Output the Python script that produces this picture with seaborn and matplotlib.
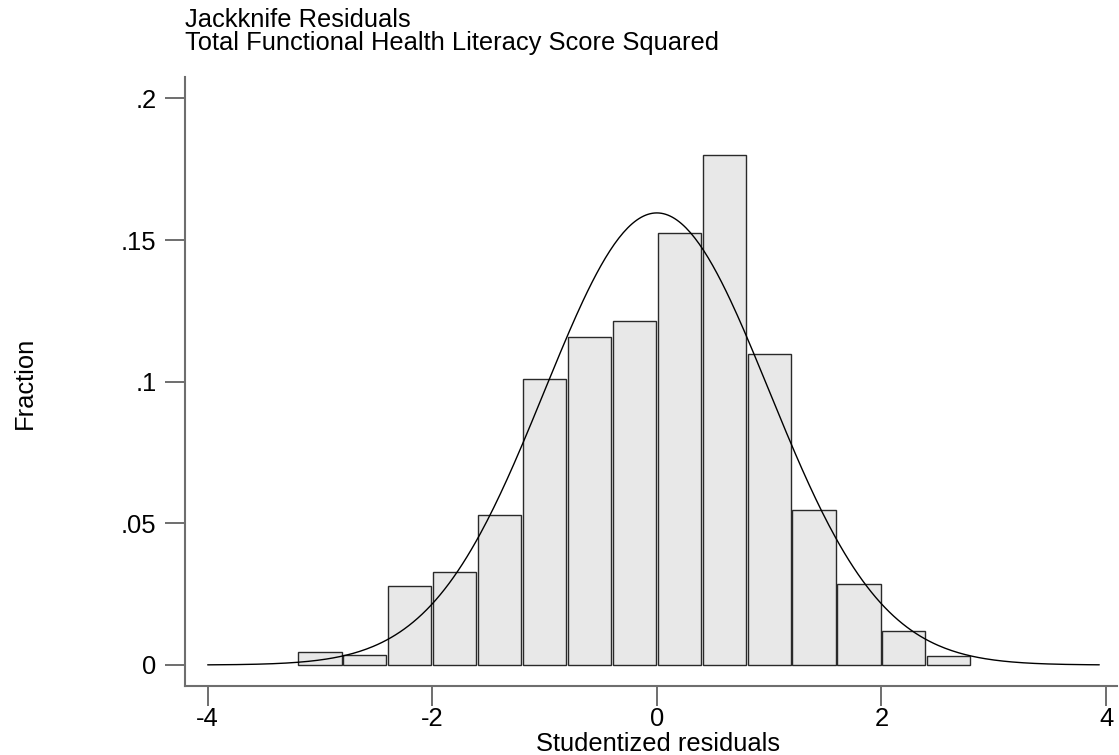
import numpy as np
import pandas as pd
import matplotlib
matplotlib.use("Agg")
import matplotlib.pyplot as plt
import seaborn as sns

# ---- data ----
bin_edges = [-3.2, -2.8, -2.4, -2.0, -1.6, -1.2, -0.8, -0.4, 0.0,
             0.4, 0.8, 1.2, 1.6, 2.0, 2.4, 2.8]
fractions = [0.0045, 0.0036, 0.0280, 0.0329, 0.0529, 0.1008, 0.1159, 0.1214,
             0.1526, 0.1799, 0.1097, 0.0547, 0.0286, 0.0120, 0.0031]
norm_mean = 0.0
norm_sd = 1.0
curve_range = (-4.0, 3.94)
x_ticks = [-4, -2, 0, 2, 4]
x_ticklabels = ["-4", "-2", "0", "2", "4"]
y_ticks = [0, 0.05, 0.1, 0.15, 0.2]
y_ticklabels = ["0", ".05", ".1", ".15", ".2"]
title_lines = ["Jackknife Residuals", "Total Functional Health Literacy Score Squared"]
x_label = "Studentized residuals"
y_label = "Fraction"

sns.set_style("white")
plt.rcParams['font.family'] = ['Liberation Sans', 'DejaVu Sans']
plt.rcParams['text.color'] = 'black'

FS = 18.4

W, H = 1119, 755
fig = plt.figure(figsize=(W / 100, H / 100), dpi=100)
ax = fig.add_axes([185 / W, 69 / H, (1117 - 185) / W, (686 - 77) / H])

edges = np.array(bin_edges)
centers = (edges[:-1] + edges[1:]) / 2
df = pd.DataFrame({"x": centers, "w": fractions})
sns.histplot(data=df, x="x", weights="w", bins=list(bin_edges), shrink=0.96,
             stat="count", color="#e8e8e8", edgecolor="#2a2a2a",
             linewidth=1.0, alpha=1.0, ax=ax)

binw = edges[1] - edges[0]
xc = np.linspace(curve_range[0], curve_range[1], 400)
yc = binw * np.exp(-0.5 * ((xc - norm_mean) / norm_sd) ** 2) / (norm_sd * np.sqrt(2 * np.pi))
sns.lineplot(x=xc, y=yc, color="black", linewidth=1.0, ax=ax)

px_per_unit = (1106 - 207.7) / 8
ax.set_xlim(-4 + (185 - 207.7) / px_per_unit, -4 + (1117 - 207.7) / px_per_unit)
ax.set_ylim((665 - 686) / 2833, (665 - 77) / 2833)

ax.set_xticks(x_ticks)
ax.set_xticklabels(x_ticklabels)
ax.set_yticks(y_ticks)
ax.set_yticklabels(y_ticklabels)
ax.tick_params(axis="both", direction="out", length=14.5, width=1.2,
               color="#555555", labelsize=FS, labelcolor="black",
               bottom=True, left=True)
ax.tick_params(axis="x", pad=0.5)
ax.tick_params(axis="y", pad=6)

for s in ["top", "right"]:
    ax.spines[s].set_visible(False)
for s in ["left", "bottom"]:
    ax.spines[s].set_color("#6e6e6e")
    ax.spines[s].set_linewidth(1.5)

ax.set_xlabel("")
ax.set_ylabel("")
fig.text(658 / W, 1 - 744 / H, x_label, ha="center", va="center", fontsize=FS)
fig.text(25 / W, 1 - 383 / H, y_label, ha="center", va="center", rotation=90, fontsize=FS)
fig.text(185 / W, 1 - 20 / H, title_lines[0], ha="left", va="center", fontsize=FS)
fig.text(185 / W, 1 - 43 / H, title_lines[1], ha="left", va="center", fontsize=FS)

fig.savefig("out.png", dpi=100, facecolor="white")
